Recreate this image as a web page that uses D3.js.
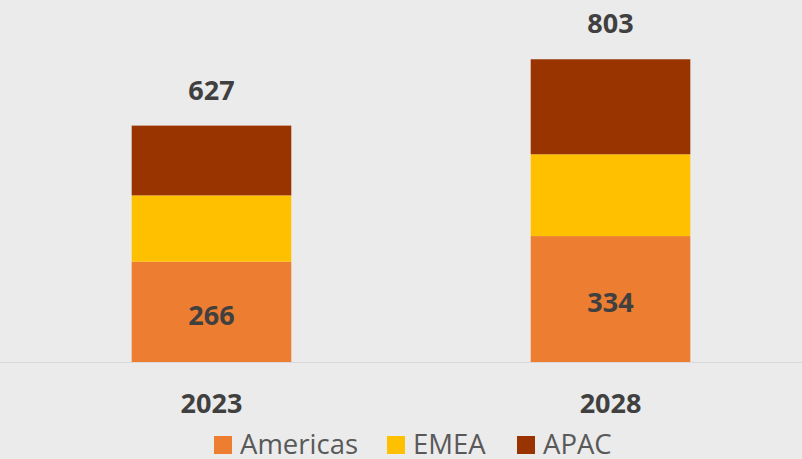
<!DOCTYPE html>
<html>
<head>
<meta charset="utf-8">
<script src="https://cdn.jsdelivr.net/npm/d3@7"></script>
<style>
  body { margin: 0; background: #ebebeb; }
  svg { display: block; }
</style>
</head>
<body>
<div id="chart"></div>
<script>
// data
const years = ['2023', '2028'];
const regions = ['Americas', 'EMEA', 'APAC'];
const americas = [266, 334];
const emea = [176, 217];
const apac = [185, 252];
const colors = ['#ed7d31', '#ffc000', '#993300'];

const width = 802,
      height = 459;

const rows = years.map((year, i) => ({
  year,
  Americas: americas[i],
  EMEA: emea[i],
  APAC: apac[i]
}));
const totals = rows.map(d => d.Americas + d.EMEA + d.APAC);

const x = d3.scaleBand()
      .domain(years)
      .range([0, 822])
      .paddingInner(0.6)
      .paddingOuter(0.33);

const y = d3.scaleLinear()
      .domain([0, 900])
      .range([362, 22.7]);

const stack = d3.stack().keys(regions);
const series = stack(rows);

const svg = d3.select('#chart').append('svg')
      .attr('width', width)
      .attr('height', height);

svg.append('rect')
  .attr('width', width)
  .attr('height', height)
  .attr('fill', '#ebebeb');

// baseline
svg.append('line')
  .attr('x1', 0)
  .attr('x2', width)
  .attr('y1', y(0) + 0.5)
  .attr('y2', y(0) + 0.5)
  .attr('stroke', '#d9d9d9')
  .attr('stroke-width', 1);

svg.append('g')
  .selectAll('g')
  .data(series)
  .enter()
  .append('g')
  .attr('fill', (d, i) => colors[i])
  .selectAll('rect')
  .data(d => d)
  .enter()
  .append('rect')
  .attr('x', d => x(d.data.year))
  .attr('width', x.bandwidth())
  .attr('y', d => y(d[1]))
  .attr('height', d => y(d[0]) - y(d[1]));

const font = '"Open Sans", "Noto Sans", sans-serif';

// americas labels inside the bar
svg.append('g')
  .selectAll('text')
  .data(rows)
  .enter()
  .append('text')
  .attr('x', d => x(d.year) + x.bandwidth() / 2)
  .attr('y', d => (y(0) + y(d.Americas)) / 2 + 13)
  .attr('text-anchor', 'middle')
  .attr('font-family', font)
  .attr('font-weight', 'bold')
  .attr('font-size', 27)
  .attr('fill', '#404040')
  .text(d => d.Americas);

// totals above bars
svg.append('g')
  .selectAll('text')
  .data(rows)
  .enter()
  .append('text')
  .attr('x', d => x(d.year) + x.bandwidth() / 2)
  .attr('y', (d, i) => y(totals[i]) - 26)
  .attr('text-anchor', 'middle')
  .attr('font-family', font)
  .attr('font-weight', 'bold')
  .attr('font-size', 27)
  .attr('fill', '#404040')
  .text((d, i) => totals[i]);

// category axis
const xAxis = svg.append('g')
  .attr('transform', `translate(0, ${y(0)})`)
  .call(d3.axisBottom(x).tickSize(0).tickPadding(32));
xAxis.select('.domain').remove();
xAxis.selectAll('text')
  .attr('font-family', font)
  .attr('font-weight', 'bold')
  .attr('font-size', 27)
  .attr('fill', '#404040');

// legend
const legendX = [214, 387, 517];
const legend = svg.append('g')
  .selectAll('g')
  .data(regions)
  .enter()
  .append('g')
  .attr('transform', (d, i) => `translate(${legendX[i]}, 436)`);
legend.append('rect')
  .attr('width', 18)
  .attr('height', 18)
  .attr('fill', (d, i) => colors[i]);
legend.append('text')
  .attr('x', 26)
  .attr('y', 18)
  .attr('font-family', font)
  .attr('font-size', 27.5)
  .attr('fill', '#595959')
  .text(d => d);
</script>
</body>
</html>
